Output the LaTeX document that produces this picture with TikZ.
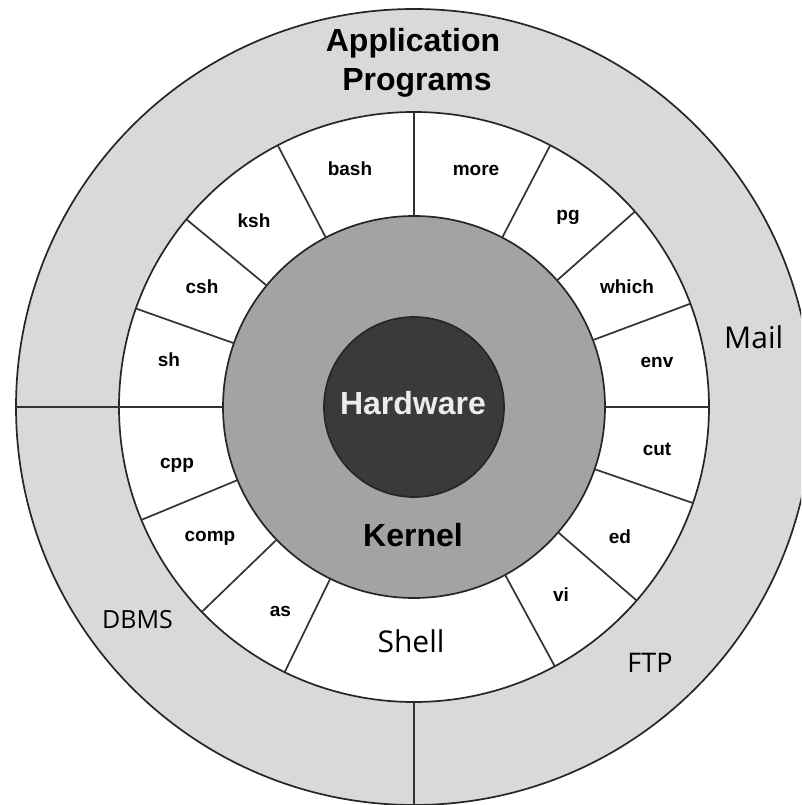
\documentclass[tikz,border=0pt]{standalone}
\usepackage{fontspec}
\setmainfont{Liberation Sans}
\newfontfamily\lightfont{Open Sans}
\definecolor{outergray}{HTML}{D9D9D9}
\definecolor{kernelgray}{HTML}{A3A3A3}
\definecolor{hwgray}{HTML}{3A3A3A}
\definecolor{hwtext}{HTML}{ECECEC}
\begin{document}
\begin{tikzpicture}[x=1pt,y=1pt,
  ring/.style={draw=black!85, line width=1.7pt},
  sep/.style={draw=black!80, line width=1.7pt},
  lbl/.style={font=\fontsize{19}{19}\selectfont\bfseries, inner sep=0pt},
  big/.style={font=\fontsize{32}{32}\selectfont\bfseries, inner sep=0pt},
  plain/.style={font=\lightfont\fontsize{30}{30}\selectfont, inner sep=0pt}]
\useasboundingbox (-414,-398) rectangle (387,407);
\clip (-414,-398) rectangle (387,407);
\fill[white] (-414,-398) rectangle (387,407);
\coordinate (C) at (0,0);
\draw[ring, fill=outergray] (C) circle (398);
\draw[ring, fill=white] (C) circle (295);
\draw[ring, fill=kernelgray] (C) circle (191);
\draw[ring, fill=hwgray] (C) circle (90);
\foreach \a in {0,20.5,41.5,62.5,90,117.5,140.5,160.5,180,202.5,224,244,298.5,319,341}
  \draw[sep] (\a:191) -- (\a:295);
\draw[sep] (180:295) -- (180:398);
\draw[sep] (270:295) -- (270:398);
% shell ring labels
\node[lbl] (bash) at (-64,238) {bash};
\node[lbl] (more) at (62,237) {more};
\node[lbl] (ksh) at (-160,186) {ksh};
\node[lbl] (pg) at (154,190) {pg};
\node[lbl] (csh) at (-212,120) {csh};
\node[lbl] (which) at (213,120) {which};
\node[lbl] (sh) at (-245,47) {sh};
\node[lbl] (env) at (243,45) {env};
\node[lbl] (cpp) at (-237,-58) {cpp};
\node[lbl] (cut) at (243,-42) {cut};
\node[lbl] (comp) at (-204,-131) {comp};
\node[lbl] (ed) at (206,-130) {ed};
\node[lbl] (as) at (-133.5,-204) {as};
\node[lbl] (vi) at (147,-188) {vi};
\node[plain] (shell) at (-3,-234) {Shell};
% core
\node[big] (kernel) at (-1,-128.5) {Kernel};
\node[big, text=hwtext] (hw) at (-1,4.4) {Hardware};
% outer ring
\node[big] (app1) at (-1,363.6) {Application};
\node[big] (app2) at (3,324) {Programs};
\node[plain] (mail) at (339.7,70) {Mail};
\node[plain, font=\lightfont\fontsize{25}{25}\selectfont] (dbms) at (-276.5,-213) {DBMS};
\node[plain, font=\lightfont\fontsize{27}{27}\selectfont] (ftp) at (236,-256) {FTP};
\end{tikzpicture}
\end{document}
